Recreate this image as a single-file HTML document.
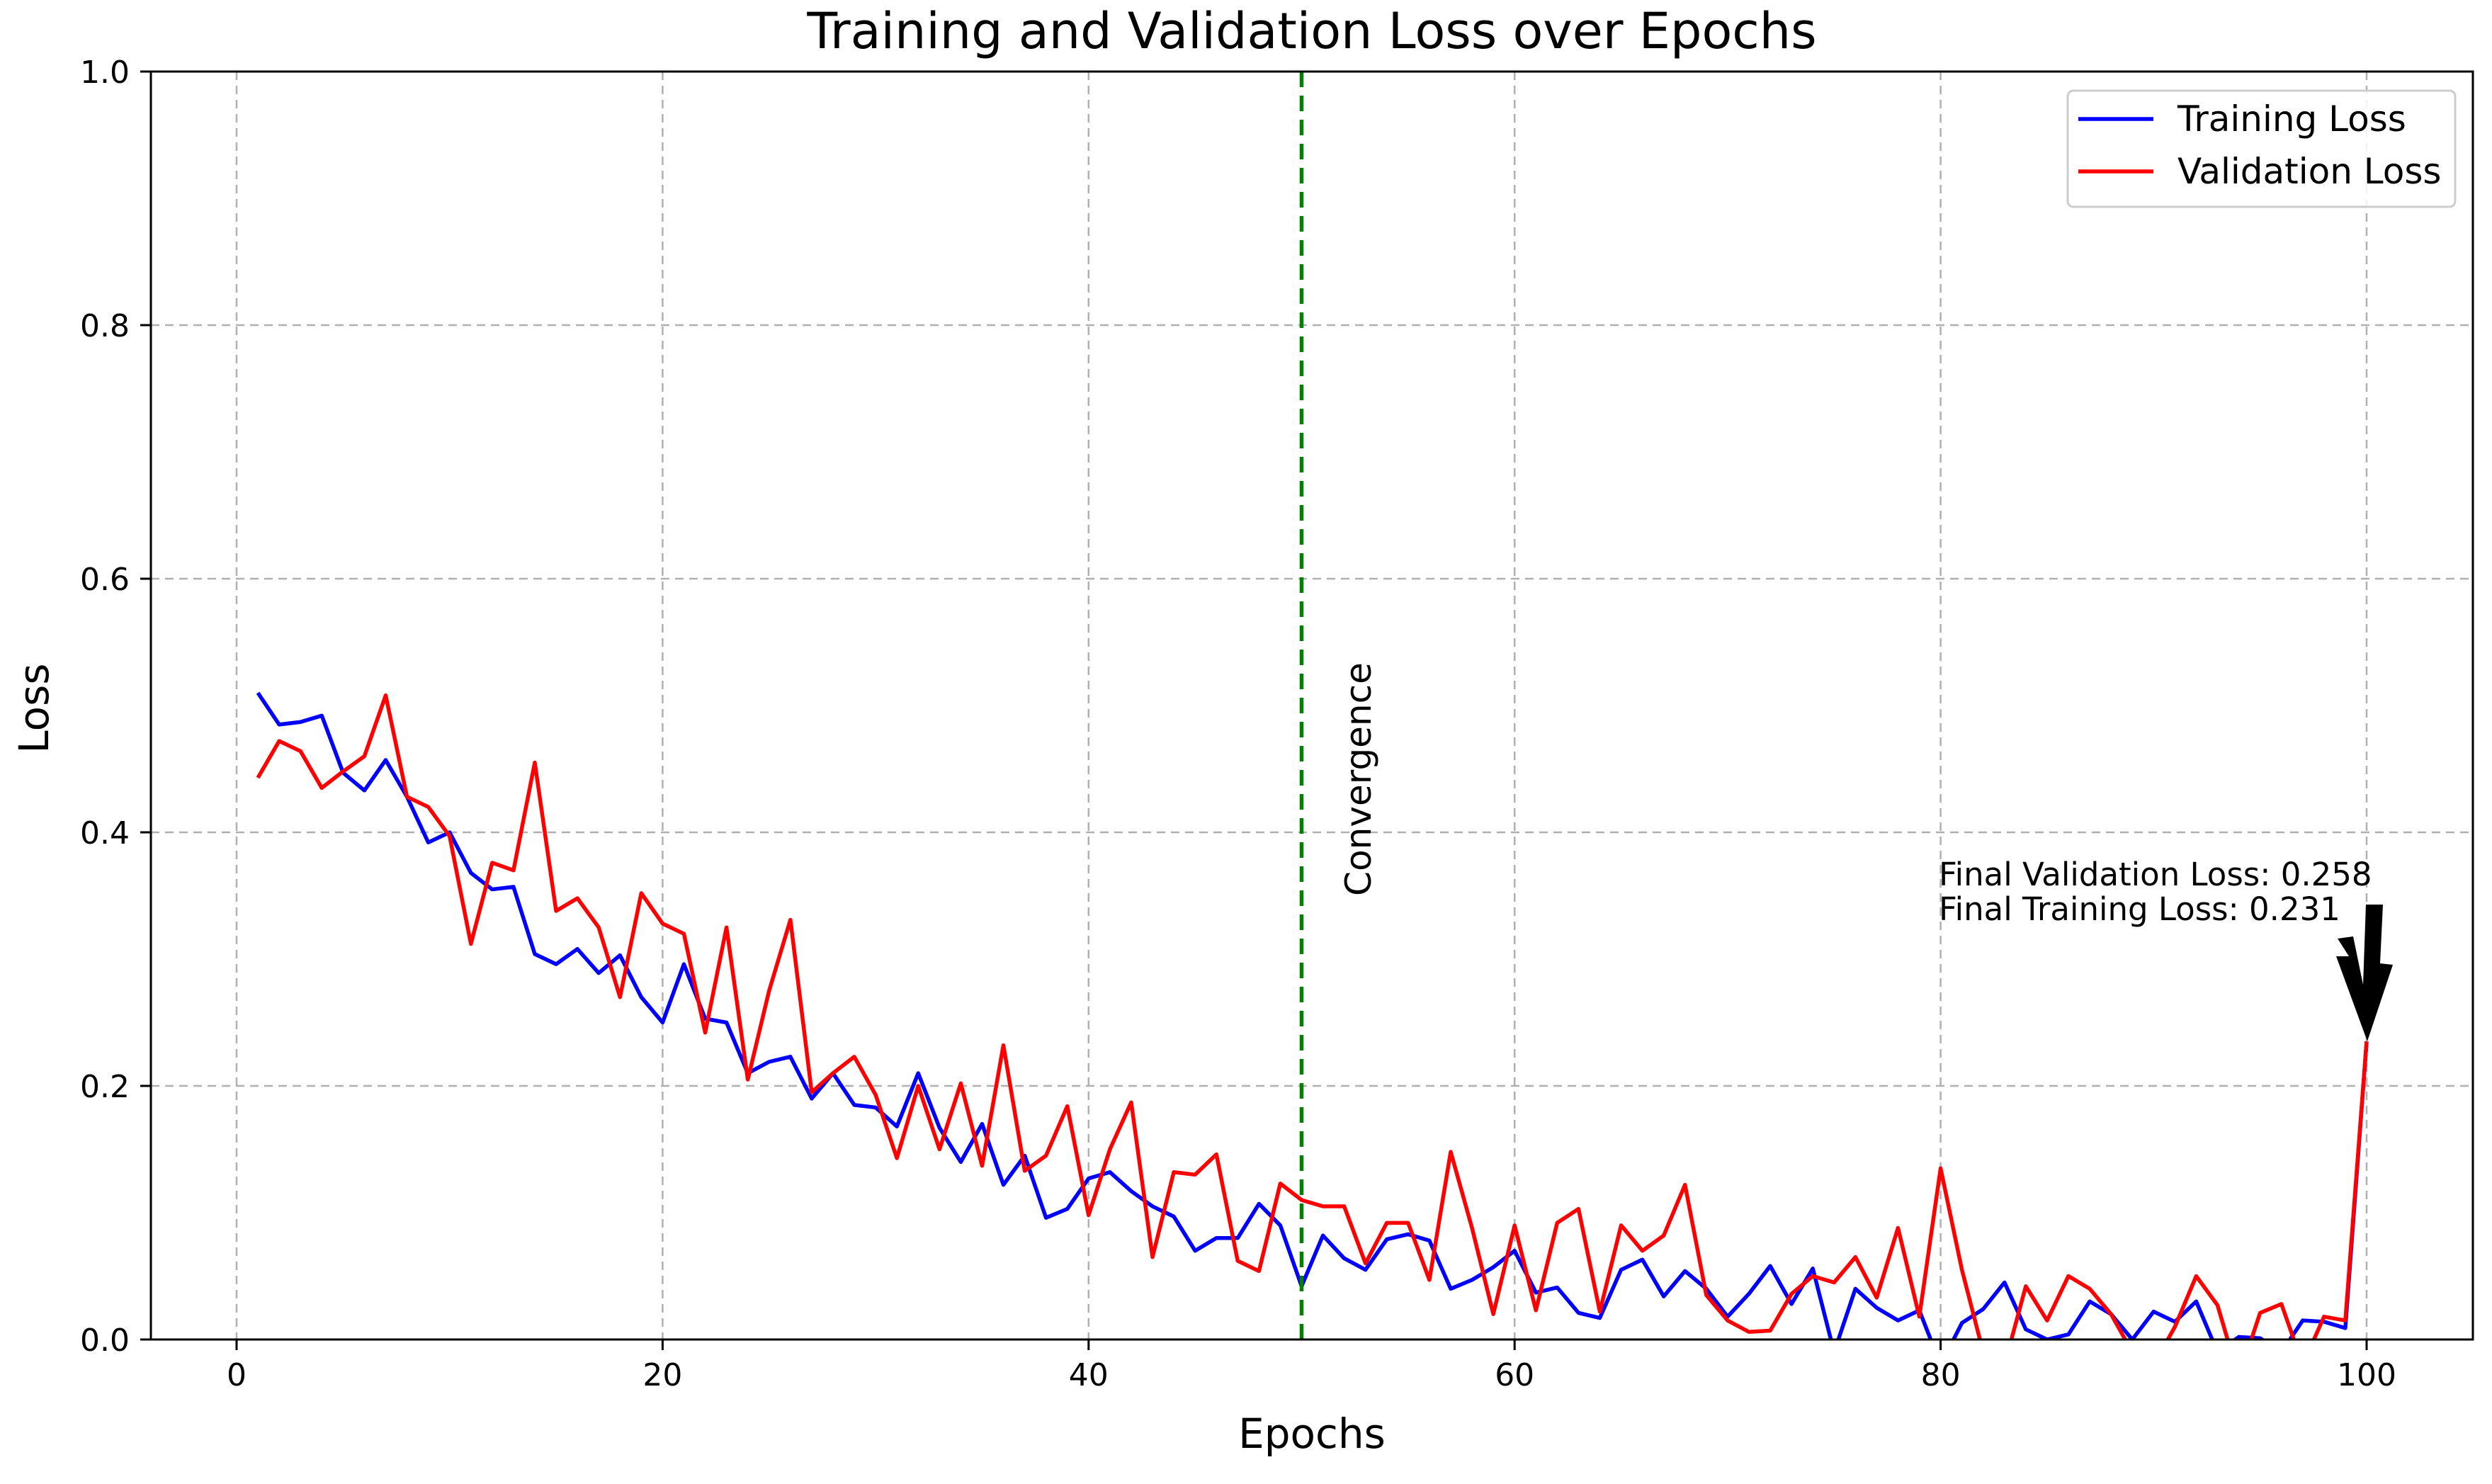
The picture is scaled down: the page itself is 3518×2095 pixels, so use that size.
<!DOCTYPE html>
<html><head><meta charset="utf-8"><style>
html,body{margin:0;padding:0;background:#fff;}
svg{display:block;font-family:"DejaVu Sans","Liberation Sans",sans-serif;}
</style></head><body>
<svg id="chart" width="3518" height="2095" viewBox="0 0 3518 2095" xmlns="http://www.w3.org/2000/svg">
<defs><clipPath id="plotclip"><rect x="213" y="101" width="3278" height="1790"/></clipPath></defs>
<rect width="3518" height="2095" fill="#fff"/>
<text x="1852" y="68" font-size="70" text-anchor="middle" fill="#000">Training and Validation Loss over Epochs</text>
<g id="grid"></g>
<g id="series" clip-path="url(#plotclip)"></g>
<rect x="213" y="101" width="3278" height="1790" fill="none" stroke="#000" stroke-width="3"/>
<g id="ticks"></g>
<text transform="translate(68,1000) rotate(-90)" font-size="58" text-anchor="middle">Loss</text>
<text x="1852" y="2044" font-size="58" text-anchor="middle">Epochs</text>
<g>
<rect x="2919" y="128" width="547" height="164" rx="8" fill="#fff" fill-opacity="0.85" stroke="#ccc" stroke-width="3"/>
<line x1="2934" y1="168" x2="3040" y2="168" stroke="#0000ff" stroke-width="5.5"/>
<text x="3074" y="185" font-size="50">Training Loss</text>
<line x1="2934" y1="242" x2="3040" y2="242" stroke="#ff0000" stroke-width="5.5"/>
<text x="3074" y="259" font-size="50">Validation Loss</text>
</g>
<text transform="translate(1935,1100) rotate(-90)" font-size="50" text-anchor="middle">Convergence</text>
<text x="2737" y="1250" font-size="45">Final Validation Loss: 0.258</text>
<text x="2737" y="1299" font-size="45">Final Training Loss: 0.231</text>
<polygon fill="#000" points="3340,1277 3364,1277 3360,1360 3378,1362 3342,1470 3298,1350 3316,1350 3300,1325 3322,1322 3336,1390"/>
<script>
const epochs = Array.from({length:100},(_, i)=>i+1);
const trainLoss = [0.51,0.485,0.487,0.492,0.447,0.433,0.457,0.428,0.392,0.40,0.368,0.355,0.357,0.304,0.296,0.308,0.289,0.303,0.27,0.25,0.296,0.253,0.25,0.21,0.219,0.223,0.19,0.21,0.185,0.183,0.168,0.21,0.167,0.14,0.17,0.122,0.145,0.096,0.103,0.127,0.132,0.117,0.105,0.097,0.07,0.08,0.08,0.107,0.09,0.042,0.082,0.064,0.055,0.079,0.083,0.078,0.04,0.047,0.057,0.07,0.037,0.041,0.021,0.017,0.055,0.063,0.034,0.054,0.04,0.018,0.036,0.058,0.028,0.056,-0.01,0.04,0.025,0.015,0.023,-0.02,0.013,0.024,0.045,0.008,0.0,0.004,0.03,0.02,0.0,0.022,0.014,0.03,-0.01,0.002,0.001,-0.01,0.015,0.014,0.009,0.235];
const valLoss = [0.443,0.472,0.464,0.435,0.448,0.46,0.508,0.428,0.42,0.397,0.312,0.376,0.37,0.455,0.338,0.348,0.325,0.27,0.352,0.328,0.32,0.242,0.325,0.205,0.275,0.331,0.195,0.21,0.223,0.193,0.143,0.2,0.15,0.202,0.137,0.232,0.133,0.145,0.184,0.098,0.15,0.187,0.065,0.132,0.13,0.146,0.062,0.054,0.123,0.11,0.105,0.105,0.06,0.092,0.092,0.047,0.148,0.088,0.02,0.09,0.023,0.092,0.103,0.022,0.09,0.07,0.082,0.122,0.035,0.015,0.006,0.007,0.036,0.05,0.045,0.065,0.033,0.088,0.018,0.135,0.055,-0.01,-0.02,0.042,0.015,0.05,0.04,0.02,-0.01,-0.02,0.01,0.05,0.027,-0.03,0.021,0.028,-0.02,0.018,0.015,0.235];
const xTicks = [0,20,40,60,80,100];
const yTicks = [0.0,0.2,0.4,0.6,0.8,1.0];
const convergenceEpoch = 50;

const NS='http://www.w3.org/2000/svg';
const X = v => 334 + (3341-334)*v/100;
const Y = v => 1891 - 1790*v;
function mk(tag, attrs, parent){const e=document.createElementNS(NS,tag);for(const k in attrs)e.setAttribute(k,attrs[k]);parent.appendChild(e);return e;}
const grid=document.getElementById('grid'), ticks=document.getElementById('ticks'), series=document.getElementById('series');
xTicks.forEach(t=>{
  const g=mk('line',{x1:X(t),x2:X(t),y1:101,y2:1891,stroke:'#b0b0b0','stroke-width':2.5,'stroke-dasharray':'12 8'},grid);
  
  
  const tk=mk('line',{x1:X(t),x2:X(t),y1:1891,y2:1906,stroke:'#000','stroke-width':3},ticks);
  
  
  const tl=mk('text',{x:X(t),y:1956,'font-size':44,'text-anchor':'middle'},ticks);
  tl.textContent=String(t);
  
  
});
yTicks.forEach(t=>{
  const g=mk('line',{x1:213,x2:3491,y1:Y(t),y2:Y(t),stroke:'#b0b0b0','stroke-width':2.5,'stroke-dasharray':'12 8'},grid);
  
  
  const tk=mk('line',{x1:198,x2:213,y1:Y(t),y2:Y(t),stroke:'#000','stroke-width':3},ticks);
  
  
  const tl=mk('text',{x:183,y:Y(t)+16,'font-size':44,'text-anchor':'end'},ticks);
  tl.textContent=t.toFixed(1);
  
  
});
function line(vals,color,name){
  const p=mk('polyline',{points:vals.map((v,i)=>X(epochs[i])+','+Y(v)).join(' '),fill:'none',stroke:color,'stroke-width':5.5,'stroke-linejoin':'round'},series);
  
  
}
line(trainLoss,'#0000ff','training-loss-line');
line(valLoss,'#ff0000','validation-loss-line');
const cl=mk('line',{x1:X(convergenceEpoch),x2:X(convergenceEpoch),y1:101,y2:1891,stroke:'#008000','stroke-width':5.5,'stroke-dasharray':'22 12'},series);


</script>
</svg>
</body></html>
